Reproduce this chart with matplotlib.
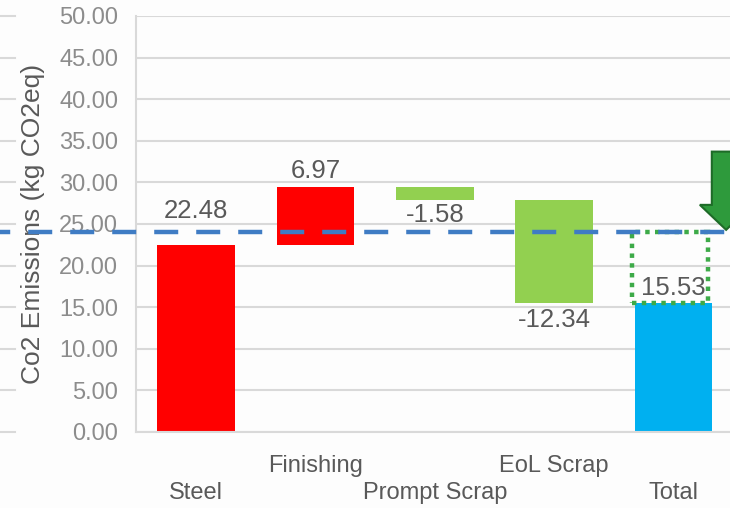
import matplotlib.pyplot as plt
import matplotlib.transforms as mtransforms
from matplotlib.patches import Polygon, Rectangle
import numpy as np

plt.rcParams['font.family'] = ['Liberation Sans', 'DejaVu Sans']

# waterfall steps (kg CO2eq)
categories = ['Steel', 'Finishing', 'Prompt Scrap', 'EoL Scrap', 'Total']
changes = [22.48, 6.97, -1.58, -12.34]
total = 15.53
target = 24.0
bar_colors = ['#FF0000', '#FF0000', '#92D050', '#92D050', '#00B0F0']
label_text = ['22.48', '6.97', '-1.58', '-12.34', '15.53']
label_gap = [2.7, 0.5, 0.4, 0.6, 0.3]

# cumulative bases for the floating bars
ends = np.cumsum(changes)
starts = np.concatenate([[0], ends[:-1]])
bottoms = list(np.minimum(starts, ends)) + [0]
heights = list(np.abs(changes)) + [total]
tops = [b + h for b, h in zip(bottoms, heights)]

fig = plt.figure(figsize=(7.3, 5.08), dpi=100)
fig.patch.set_facecolor('#fdfdfd')
ax = fig.add_axes([136.3 / 730, 76 / 508, 597 / 730, 416 / 508])
ax.set_facecolor('#fdfdfd')

x = np.arange(len(categories))
ax.bar(x, heights, bottom=bottoms, width=0.65, color=bar_colors, zorder=2)

ax.set_xlim(-0.5, 4.5)
ax.set_ylim(0, 50)
ax.set_yticks(np.arange(0, 50.1, 5))
ax.set_yticklabels([f'{v:.2f}' for v in np.arange(0, 50.1, 5)])
ax.tick_params(axis='y', length=0, pad=13, labelsize=17, labelcolor='#8c8c8c')
ax.grid(axis='y', color='#d9d9d9', linewidth=1.5, zorder=0)
for side in ['top', 'right']:
    ax.spines[side].set_visible(False)
ax.spines['left'].set_color('#d9d9d9')
ax.spines['bottom'].set_color('#d9d9d9')
ax.spines['left'].set_linewidth(1.5)
ax.spines['bottom'].set_linewidth(1.5)

# staggered category labels
ax.set_xticks(x)
ax.set_xticklabels(categories)
ax.tick_params(axis='x', length=0, labelsize=17, labelcolor='#595959')
for i, tick in enumerate(ax.xaxis.get_major_ticks()):
    tick.set_pad(36 if i % 2 == 0 else 16.5)

ax.set_ylabel('Co2 Emissions (kg CO2eq)', fontsize=19, color='#595959', labelpad=10)

# value labels: above for increases and totals, below for decreases
for i, txt in enumerate(label_text):
    if i < len(changes) and changes[i] < 0:
        ax.text(x[i], bottoms[i] - label_gap[i], txt, ha='center', va='top',
                fontsize=18.5, color='#595959', zorder=4)
    else:
        ax.text(x[i], tops[i] + label_gap[i], txt, ha='center', va='bottom',
                fontsize=18.5, color='#595959', zorder=4)

# grid stubs on the far left of the figure
blend = mtransforms.blended_transform_factory(fig.transFigure, ax.transData)
for v in np.arange(0, 50.1, 5):
    fig.add_artist(plt.Line2D([0, 15 / 730], [v, v], transform=blend,
                              color='#d9d9d9', linewidth=1.5))

# target line across the whole figure
fig.add_artist(plt.Line2D([0, 1], [target, target], transform=blend,
                          color='#3F7CC4', linewidth=3.2,
                          linestyle=(3.1, (5.4, 4.05)), zorder=5))

# dotted box showing the reduction on the total bar
ax.add_patch(Rectangle((x[4] - 0.35, total), 0.64, target - total, fill=False,
                       edgecolor='#3DAA48', linewidth=3.2, linestyle=(0, (1, 1.2)),
                       zorder=6, clip_on=False))

# downward arrow at the right edge
ax_c = x[4] + 0.44
head_y, tip_y, top_y = 27.3, target + 0.3, 33.7
pts = [(ax_c - 0.12, top_y), (ax_c + 0.12, top_y), (ax_c + 0.12, head_y),
       (ax_c + 0.22, head_y), (ax_c, tip_y), (ax_c - 0.22, head_y), (ax_c - 0.12, head_y)]
ax.add_patch(Polygon(pts, closed=True, facecolor='#2E9A3C', edgecolor='#1E6B28',
                     linewidth=1.5, zorder=7, clip_on=False))

fig.savefig('out.png', dpi=100, facecolor=fig.get_facecolor())
